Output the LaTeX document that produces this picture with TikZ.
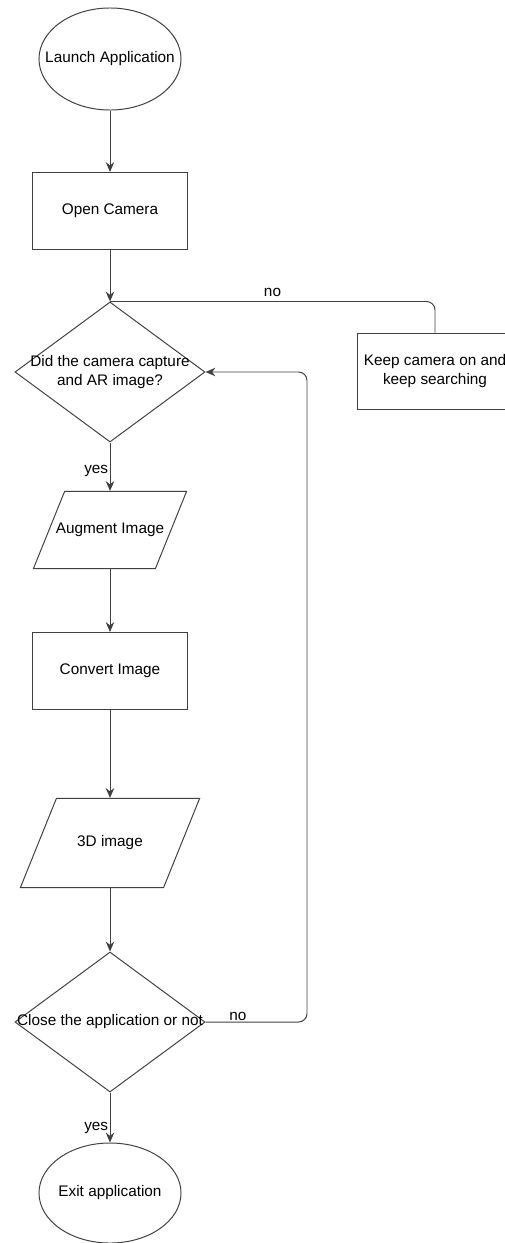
\documentclass[tikz,border=0pt]{standalone}
\usepackage{fontspec}
\setmainfont{Liberation Sans}
\usetikzlibrary{arrows.meta, shapes.geometric}
\newcommand{\ctrtext}[1]{\makebox[0pt]{#1}}

\begin{document}
\begin{tikzpicture}[>={Stealth[length=7pt,width=6pt]}, x=0.025cm, y=-0.025cm,
    every node/.style={font=\fontsize{10.9}{14}\selectfont},
    line/.style={draw=black!75, line width=0.7pt},
    terminal/.style={ellipse, line, minimum width=3.55cm, minimum height=2.55cm, inner sep=0pt},
    process/.style={rectangle, line, minimum width=3.85cm, minimum height=1.925cm, inner sep=1pt, align=center},
    decision/.style={diamond, line, minimum width=4.75cm, minimum height=3.5cm, inner sep=0pt},
    io/.style={trapezium, trapezium left angle=68, trapezium right angle=112, line, text height=8pt, text depth=2.4pt}]
    \useasboundingbox (0,0) rectangle (505,1243);

    \node (launch) at (110,59) [terminal] {\ctrtext{Launch Application}};
    \node (opencam) at (110,211) [process] {Open Camera};
    \node (askar) at (110,372) [decision] {\ctrtext{\begin{tabular}{@{}c@{}}Did the camera capture\\and AR image?\end{tabular}}};
    \node (keep) at (435,371) [process, minimum height=1.9cm] {Keep camera on and\\keep searching};
    \node (augment) at (110,530) [io, inner xsep=1.135cm, inner ysep=0.78cm] {\ctrtext{Augment Image}};
    \node (convert) at (110,671) [process] {Convert Image};
    \node (img3d) at (110,843) [io, inner xsep=1.34cm, inner ysep=0.93cm] {\ctrtext{3D image}};
    \node (closeq) at (110,1022) [decision] {\ctrtext{Close the application or not}};
    \node (exitapp) at (110,1193) [terminal, minimum height=2.5cm] {\ctrtext{Exit application}};

    \coordinate (back) at (307,372);

    \draw [->, line] (launch) -- (opencam);
    \draw [->, line] (opencam) -- (askar);
    \draw [line, rounded corners=6pt] (askar.north) -| node [pos=0.25, above] {no} (keep.north);
    \draw [->, line] (askar) -- node [pos=0.58, left, inner sep=1pt] {yes} (augment);
    \draw [->, line] (augment) -- (convert);
    \draw [->, line] (convert) -- (img3d);
    \draw [->, line] (img3d) -- (closeq);
    \draw [->, line, rounded corners=6pt] (closeq.east) -| node [pos=0.16, above, inner sep=0.5pt] {no} (back) -- (askar.east);
    \draw [->, line] (closeq) -- node [pos=0.7, left, inner sep=1pt] {yes} (exitapp);
\end{tikzpicture}
\end{document}
